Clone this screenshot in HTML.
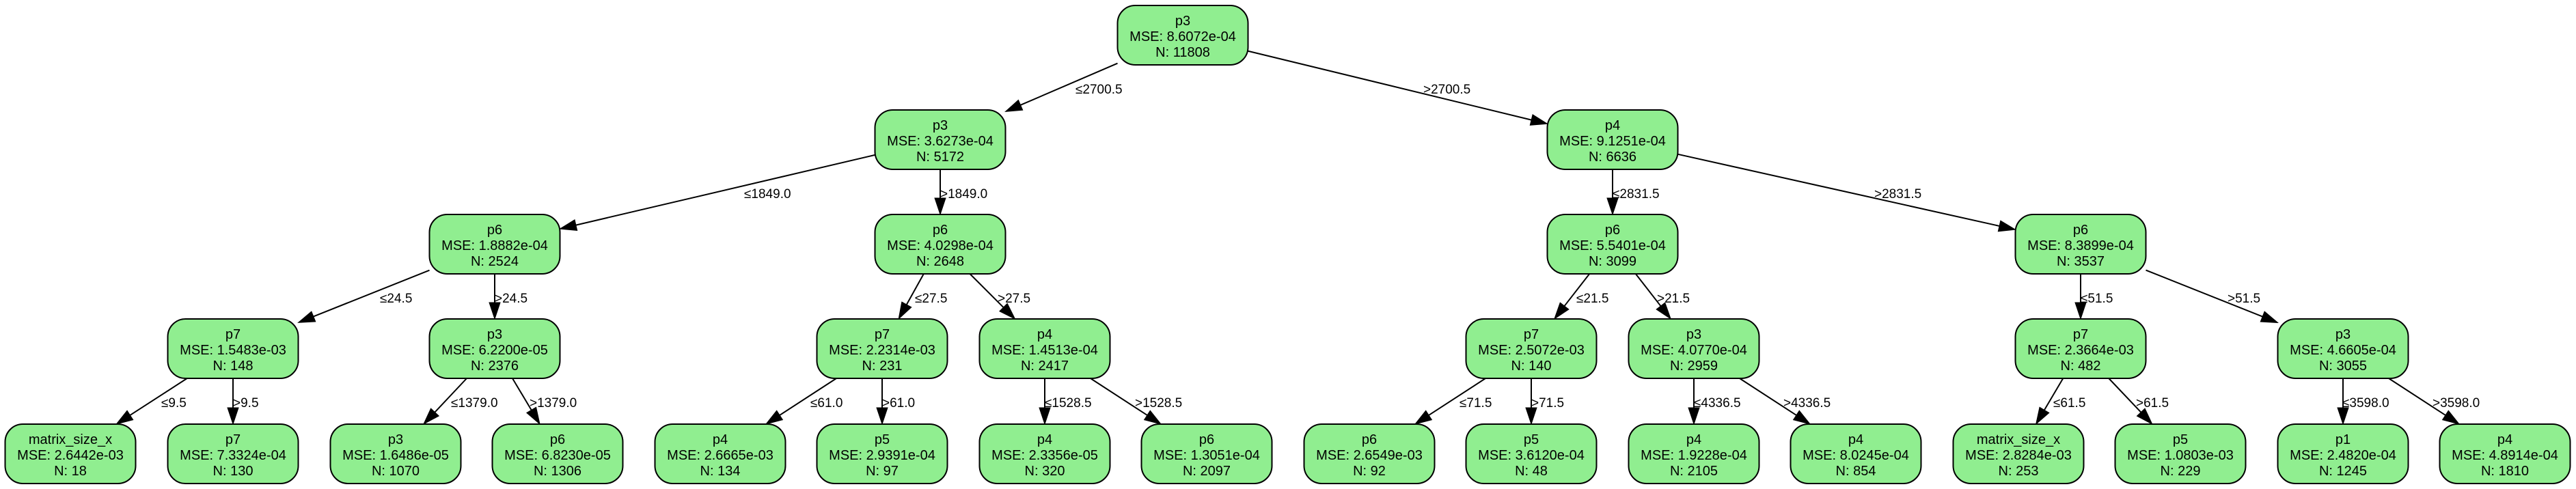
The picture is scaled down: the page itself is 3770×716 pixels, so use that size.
<!DOCTYPE html>
<html><head><meta charset="utf-8"><style>
html,body{margin:0;padding:0;background:#fff;}
svg{display:block;}
text{font-family:"Liberation Sans",Arial,sans-serif;fill:#000;}
.n{font-size:20px;text-anchor:middle;}
.l{font-size:19px;}
</style></head><body>
<svg id="s" width="3770" height="716" viewBox="0 0 3770 716" xmlns="http://www.w3.org/2000/svg">
<g id="edges"></g>
<g id="nodes"></g>
<g id="texts">
<text class="n" x="1731" y="37">p3</text><text class="n" x="1731" y="60">MSE: 8.6072e-04</text><text class="n" x="1731" y="83">N: 11808</text>
<text class="n" x="1376" y="190">p3</text><text class="n" x="1376" y="213">MSE: 3.6273e-04</text><text class="n" x="1376" y="236">N: 5172</text>
<text class="n" x="2360" y="190">p4</text><text class="n" x="2360" y="213">MSE: 9.1251e-04</text><text class="n" x="2360" y="236">N: 6636</text>
<text class="n" x="724" y="343">p6</text><text class="n" x="724" y="366">MSE: 1.8882e-04</text><text class="n" x="724" y="389">N: 2524</text>
<text class="n" x="1376" y="343">p6</text><text class="n" x="1376" y="366">MSE: 4.0298e-04</text><text class="n" x="1376" y="389">N: 2648</text>
<text class="n" x="2360" y="343">p6</text><text class="n" x="2360" y="366">MSE: 5.5401e-04</text><text class="n" x="2360" y="389">N: 3099</text>
<text class="n" x="3045" y="343">p6</text><text class="n" x="3045" y="366">MSE: 8.3899e-04</text><text class="n" x="3045" y="389">N: 3537</text>
<text class="n" x="341" y="496">p7</text><text class="n" x="341" y="519">MSE: 1.5483e-03</text><text class="n" x="341" y="542">N: 148</text>
<text class="n" x="724" y="496">p3</text><text class="n" x="724" y="519">MSE: 6.2200e-05</text><text class="n" x="724" y="542">N: 2376</text>
<text class="n" x="1291" y="496">p7</text><text class="n" x="1291" y="519">MSE: 2.2314e-03</text><text class="n" x="1291" y="542">N: 231</text>
<text class="n" x="1529" y="496">p4</text><text class="n" x="1529" y="519">MSE: 1.4513e-04</text><text class="n" x="1529" y="542">N: 2417</text>
<text class="n" x="2241" y="496">p7</text><text class="n" x="2241" y="519">MSE: 2.5072e-03</text><text class="n" x="2241" y="542">N: 140</text>
<text class="n" x="2479" y="496">p3</text><text class="n" x="2479" y="519">MSE: 4.0770e-04</text><text class="n" x="2479" y="542">N: 2959</text>
<text class="n" x="3045" y="496">p7</text><text class="n" x="3045" y="519">MSE: 2.3664e-03</text><text class="n" x="3045" y="542">N: 482</text>
<text class="n" x="3429" y="496">p3</text><text class="n" x="3429" y="519">MSE: 4.6605e-04</text><text class="n" x="3429" y="542">N: 3055</text>
<text class="n" x="103" y="650">matrix_size_x</text><text class="n" x="103" y="673">MSE: 2.6442e-03</text><text class="n" x="103" y="696">N: 18</text>
<text class="n" x="341" y="650">p7</text><text class="n" x="341" y="673">MSE: 7.3324e-04</text><text class="n" x="341" y="696">N: 130</text>
<text class="n" x="579" y="650">p3</text><text class="n" x="579" y="673">MSE: 1.6486e-05</text><text class="n" x="579" y="696">N: 1070</text>
<text class="n" x="816" y="650">p6</text><text class="n" x="816" y="673">MSE: 6.8230e-05</text><text class="n" x="816" y="696">N: 1306</text>
<text class="n" x="1054" y="650">p4</text><text class="n" x="1054" y="673">MSE: 2.6665e-03</text><text class="n" x="1054" y="696">N: 134</text>
<text class="n" x="1291" y="650">p5</text><text class="n" x="1291" y="673">MSE: 2.9391e-04</text><text class="n" x="1291" y="696">N: 97</text>
<text class="n" x="1529" y="650">p4</text><text class="n" x="1529" y="673">MSE: 2.3356e-05</text><text class="n" x="1529" y="696">N: 320</text>
<text class="n" x="1766" y="650">p6</text><text class="n" x="1766" y="673">MSE: 1.3051e-04</text><text class="n" x="1766" y="696">N: 2097</text>
<text class="n" x="2004" y="650">p6</text><text class="n" x="2004" y="673">MSE: 2.6549e-03</text><text class="n" x="2004" y="696">N: 92</text>
<text class="n" x="2241" y="650">p5</text><text class="n" x="2241" y="673">MSE: 3.6120e-04</text><text class="n" x="2241" y="696">N: 48</text>
<text class="n" x="2479" y="650">p4</text><text class="n" x="2479" y="673">MSE: 1.9228e-04</text><text class="n" x="2479" y="696">N: 2105</text>
<text class="n" x="2716" y="650">p4</text><text class="n" x="2716" y="673">MSE: 8.0245e-04</text><text class="n" x="2716" y="696">N: 854</text>
<text class="n" x="2954" y="650">matrix_size_x</text><text class="n" x="2954" y="673">MSE: 2.8284e-03</text><text class="n" x="2954" y="696">N: 253</text>
<text class="n" x="3191" y="650">p5</text><text class="n" x="3191" y="673">MSE: 1.0803e-03</text><text class="n" x="3191" y="696">N: 229</text>
<text class="n" x="3429" y="650">p1</text><text class="n" x="3429" y="673">MSE: 2.4820e-04</text><text class="n" x="3429" y="696">N: 1245</text>
<text class="n" x="3666" y="650">p4</text><text class="n" x="3666" y="673">MSE: 4.8914e-04</text><text class="n" x="3666" y="696">N: 1810</text>
</g>
<g id="labels">
<text class="l" x="1574" y="137">≤2700.5</text>
<text class="l" x="2083" y="137">&gt;2700.5</text>
<text class="l" x="1089" y="290">≤1849.0</text>
<text class="l" x="1376" y="290">&gt;1849.0</text>
<text class="l" x="2360" y="290">≤2831.5</text>
<text class="l" x="2743" y="290">&gt;2831.5</text>
<text class="l" x="556" y="443">≤24.5</text>
<text class="l" x="724" y="443">&gt;24.5</text>
<text class="l" x="1339" y="443">≤27.5</text>
<text class="l" x="1460" y="443">&gt;27.5</text>
<text class="l" x="2307" y="443">≤21.5</text>
<text class="l" x="2425" y="443">&gt;21.5</text>
<text class="l" x="3045" y="443">≤51.5</text>
<text class="l" x="3260" y="443">&gt;51.5</text>
<text class="l" x="236" y="596">≤9.5</text>
<text class="l" x="341" y="596">&gt;9.5</text>
<text class="l" x="660" y="596">≤1379.0</text>
<text class="l" x="775" y="596">&gt;1379.0</text>
<text class="l" x="1186" y="596">≤61.0</text>
<text class="l" x="1291" y="596">&gt;61.0</text>
<text class="l" x="1529" y="596">≤1528.5</text>
<text class="l" x="1661" y="596">&gt;1528.5</text>
<text class="l" x="2136" y="596">≤71.5</text>
<text class="l" x="2241" y="596">&gt;71.5</text>
<text class="l" x="2479" y="596">≤4336.5</text>
<text class="l" x="2610" y="596">&gt;4336.5</text>
<text class="l" x="3005" y="596">≤61.5</text>
<text class="l" x="3126" y="596">&gt;61.5</text>
<text class="l" x="3428" y="596">≤3598.0</text>
<text class="l" x="3560" y="596">&gt;3598.0</text>
</g>
</svg>
<script>
(function(){
var NS="http://www.w3.org/2000/svg";
var tops=[8,161,314,467,621],W=191,H=87;
var nodes={
R:[1731,0],A:[1376,1],B:[2360,1],C:[724,2],D:[1376,2],E:[2360,2],F:[3045,2],
G:[341,3],Hh:[724,3],I:[1291,3],J:[1529,3],K:[2241,3],L:[2479,3],M:[3045,3],N:[3429,3]};
var leaves=[103,341,579,816,1054,1291,1529,1766,2004,2241,2479,2716,2954,3191,3429,3666];
leaves.forEach(function(x,i){nodes['l'+i]=[x,4];});
var edges=[['R','A'],['R','B'],['A','C'],['A','D'],['B','E'],['B','F'],['C','G'],['C','Hh'],['D','I'],['D','J'],['E','K'],['E','L'],['F','M'],['F','N']];
['G','Hh','I','J','K','L','M','N'].forEach(function(p,i){edges.push([p,'l'+(2*i)]);edges.push([p,'l'+(2*i+1)]);});
var ng=document.getElementById('nodes'),eg=document.getElementById('edges');
function c(k){var n=nodes[k];return [n[0],tops[n[1]]+H/2];}
for(var k in nodes){var n=nodes[k];var r=document.createElementNS(NS,'rect');
r.setAttribute('x',n[0]-W/2);r.setAttribute('y',tops[n[1]]);r.setAttribute('width',W);r.setAttribute('height',H);
r.setAttribute('rx',26);r.setAttribute('ry',26);r.setAttribute('fill','#90ee90');r.setAttribute('stroke','#000');r.setAttribute('stroke-width','2');ng.appendChild(r);}
function clip(dx,dy){var t=Math.min(dx?(W/2)/Math.abs(dx):1e9,dy?(H/2)/Math.abs(dy):1e9);return t;}
edges.forEach(function(e){var p=c(e[0]),q=c(e[1]);var dx=q[0]-p[0],dy=q[1]-p[1];var t=clip(dx,dy);
var sx=p[0]+dx*t,sy=p[1]+dy*t,ex=q[0]-dx*t,ey=q[1]-dy*t;
var len=Math.hypot(ex-sx,ey-sy),ux=(ex-sx)/len,uy=(ey-sy)/len;var AL=24,AW=8;
var bx=ex-ux*AL,by=ey-uy*AL;
var l=document.createElementNS(NS,'line');l.setAttribute('x1',sx);l.setAttribute('y1',sy);l.setAttribute('x2',bx);l.setAttribute('y2',by);
l.setAttribute('stroke','#000');l.setAttribute('stroke-width','2');eg.appendChild(l);
var pg=document.createElementNS(NS,'polygon');
pg.setAttribute('points',ex+','+ey+' '+(bx-uy*AW)+','+(by+ux*AW)+' '+(bx+uy*AW)+','+(by-ux*AW));
pg.setAttribute('fill','#000');pg.setAttribute('stroke','#000');eg.appendChild(pg);});
})();
</script>
</body></html>
